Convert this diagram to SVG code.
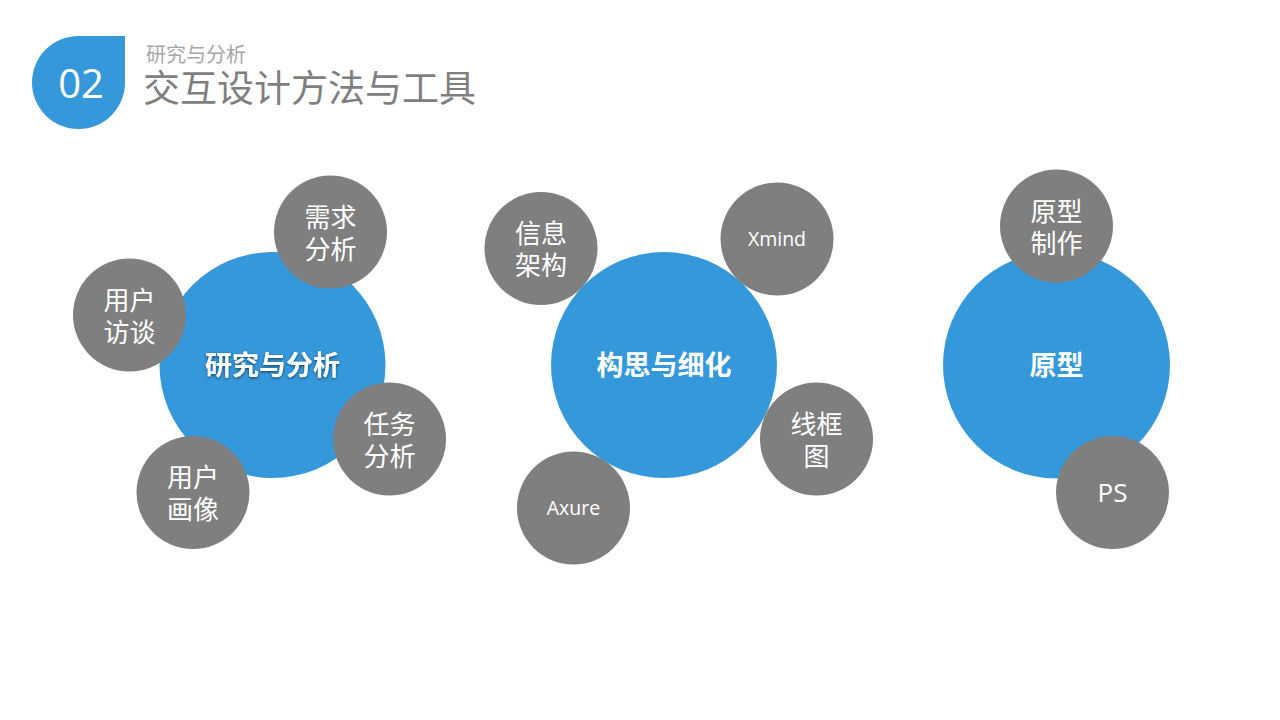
<svg xmlns="http://www.w3.org/2000/svg" width="1280" height="720" viewBox="0 0 1280 720">
  <style>
    .blue { fill: #3598DB; }
    .grey { fill: #7F7F7F; }
    .lbl { font-family: "Noto Sans CJK SC", sans-serif; font-size: 26px; fill: #FFFFFF; text-anchor: middle; }
    .lat { font-family: "Open Sans", "Noto Sans CJK SC", sans-serif; fill: #FFFFFF; text-anchor: middle; }
    .hub { font-family: "Noto Sans CJK SC", sans-serif; font-size: 27px; font-weight: bold; fill: #FFFFFF; text-anchor: middle; }
  </style>
  <defs>
    <filter id="glow" x="-20%" y="-50%" width="140%" height="200%">
      <feGaussianBlur in="SourceAlpha" stdDeviation="1.5"/>
      <feOffset dx="0" dy="0.5" result="b"/>
      <feComponentTransfer><feFuncA type="linear" slope="0.6"/></feComponentTransfer>
      <feMerge><feMergeNode/><feMergeNode in="SourceGraphic"/></feMerge>
    </filter>
  </defs>
  <rect width="1280" height="720" fill="#FFFFFF"/>

  <g id="header">
    <path class="blue" d="M125 36 L125 82.5 A46.5 46.5 0 0 1 78.5 129 A46.5 46.5 0 0 1 32 82.5 A46.5 46.5 0 0 1 78.5 36 Z"/>
    <text x="81" y="98" font-family="Open Sans, sans-serif" font-size="40" fill="#FFFFFF" text-anchor="middle">02</text>
    <text x="146" y="62" font-family="Noto Sans CJK SC, sans-serif" font-size="20" fill="#A6A6A6">研究与分析</text>
    <text x="143" y="102" font-family="Noto Sans CJK SC, sans-serif" font-size="37" fill="#7F7F7F">交互设计方法与工具</text>
  </g>

  <!-- Cluster 1 -->
  <g id="hub-research">
    <circle class="blue" cx="272.5" cy="365" r="113"/>
    <text class="hub" x="272.5" y="375" filter="url(#glow)">研究与分析</text>
  </g>
  <g id="node-demand">
    <circle class="grey" cx="330.5" cy="232" r="56.5"/>
    <text class="lbl" x="330.5" y="226.5">需求<tspan x="330.5" dy="32">分析</tspan></text>
  </g>
  <g id="node-interview">
    <circle class="grey" cx="129.5" cy="315" r="56.5"/>
    <text class="lbl" x="129.5" y="309.5">用户<tspan x="129.5" dy="32">访谈</tspan></text>
  </g>
  <g id="node-task">
    <circle class="grey" cx="389.5" cy="439" r="56.5"/>
    <text class="lbl" x="389.5" y="433.5">任务<tspan x="389.5" dy="32">分析</tspan></text>
  </g>
  <g id="node-persona">
    <circle class="grey" cx="193" cy="492.5" r="56.5"/>
    <text class="lbl" x="193" y="487">用户<tspan x="193" dy="32">画像</tspan></text>
  </g>

  <!-- Cluster 2 -->
  <g id="hub-concept">
    <circle class="blue" cx="664" cy="365" r="113"/>
    <text class="hub" x="664" y="375">构思与细化</text>
  </g>
  <g id="node-ia">
    <circle class="grey" cx="541" cy="248.5" r="56.5"/>
    <text class="lbl" x="541" y="243">信息<tspan x="541" dy="32">架构</tspan></text>
  </g>
  <g id="node-xmind">
    <circle class="grey" cx="777" cy="239" r="56.5"/>
    <text class="lat" x="777" y="246" font-size="19.5">Xmind</text>
  </g>
  <g id="node-wireframe">
    <circle class="grey" cx="816.5" cy="439" r="56.5"/>
    <text class="lbl" x="816.5" y="433.5">线框<tspan x="816.5" dy="32">图</tspan></text>
  </g>
  <g id="node-axure">
    <circle class="grey" cx="573.5" cy="508" r="56.5"/>
    <text class="lat" x="573.5" y="515" font-size="19.5">Axure</text>
  </g>

  <!-- Cluster 3 -->
  <g id="hub-prototype">
    <circle class="blue" cx="1056.5" cy="365" r="113.5"/>
    <text class="hub" x="1056.5" y="375">原型</text>
  </g>
  <g id="node-protomake">
    <circle class="grey" cx="1056.5" cy="226" r="56.5"/>
    <text class="lbl" x="1056.5" y="220.5">原型<tspan x="1056.5" dy="32">制作</tspan></text>
  </g>
  <g id="node-ps">
    <circle class="grey" cx="1112.5" cy="492.5" r="56.5"/>
    <text class="lat" x="1112.5" y="502" font-size="26">PS</text>
  </g>
</svg>
